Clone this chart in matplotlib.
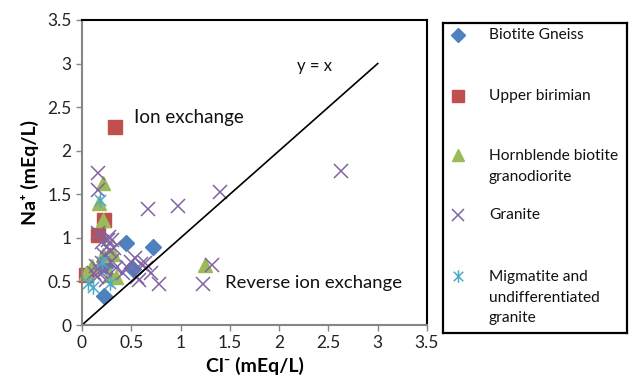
import matplotlib
matplotlib.use("Agg")
import matplotlib.pyplot as plt
from matplotlib.path import Path

plt.rcParams['font.family'] = ['Lato', 'DejaVu Sans']

# Data (Cl-, Na+) in mEq/L
gneiss_x = [0.45, 0.72, 0.52, 0.22, 0.24]
gneiss_y = [0.94, 0.89, 0.64, 0.33, 0.68]

birimian_x = [0.33, 0.22, 0.16, 0.04]
birimian_y = [2.27, 1.20, 1.03, 0.57]

hornblende_x = [0.21, 0.17, 0.21, 0.21, 0.35, 0.04, 0.31, 1.25, 0.10, 0.28]
hornblende_y = [1.63, 1.40, 1.20, 0.80, 0.55, 0.60, 0.82, 0.69, 0.68, 0.57]

granite_x = [2.63, 1.40, 0.97, 0.67, 1.32, 1.23, 0.78, 0.64, 0.58, 0.16,
             0.16, 0.16, 0.27, 0.30, 0.54, 0.46, 0.56, 0.20, 0.23, 0.15,
             0.25, 0.28, 0.32, 0.20, 0.22, 0.18, 0.30, 0.12, 0.24, 0.35,
             0.60, 0.50, 0.42, 0.65, 0.70, 0.26, 0.14]
granite_y = [1.77, 1.53, 1.37, 1.33, 0.69, 0.47, 0.47, 0.71, 0.52, 1.74,
             1.55, 1.06, 1.01, 0.97, 0.77, 0.67, 0.55, 0.71, 0.63, 0.55,
             0.90, 0.85, 0.88, 0.95, 0.80, 0.62, 0.73, 0.60, 0.52, 0.65,
             0.70, 0.72, 0.60, 0.65, 0.60, 0.98, 0.68]

migmatite_x = [0.18, 0.11, 0.28, 0.06, 0.20]
migmatite_y = [1.43, 0.44, 0.48, 0.48, 0.72]

line_x = [0, 3]
line_y = [0, 3]

labels = ["Biotite Gneiss", "Upper birimian", "Hornblende biotite\ngranodiorite",
          "Granite", "Migmatite and\nundifferentiated\ngranite"]

# asterisk marker: X plus vertical stroke
star = Path([(-1, -1), (1, 1), (-1, 1), (1, -1), (0, -1.3), (0, 1.3)],
            [Path.MOVETO, Path.LINETO, Path.MOVETO, Path.LINETO, Path.MOVETO, Path.LINETO])

styles = [
    dict(marker='D', color='#4F81BD', markersize=8, mec='#4F81BD'),
    dict(marker='s', color='#C0504D', markersize=9.5, mec='#C0504D'),
    dict(marker='^', color='#9BBB59', markersize=10.5, mec='#9BBB59'),
    dict(marker='x', color='#8064A2', markersize=9.5, mew=1.1),
    dict(marker=star, color='#4BACC6', markersize=10.5, mew=1.1),
]

fig = plt.figure(figsize=(6.33, 3.89), dpi=100)
ax = fig.add_axes([82 / 633, 64 / 389, 345 / 633, 305 / 389])

series = [(gneiss_x, gneiss_y), (birimian_x, birimian_y), (hornblende_x, hornblende_y),
          (granite_x, granite_y), (migmatite_x, migmatite_y)]
for (xs, ys), st in zip(series, styles):
    ax.plot(xs, ys, linestyle='none', clip_on=False, **st)

ax.plot(line_x, line_y, color='black', lw=1.2)

ax.set_xlim(0, 3.5)
ax.set_ylim(0, 3.5)
ticks = [0, 0.5, 1, 1.5, 2, 2.5, 3, 3.5]
ax.set_xticks(ticks)
ax.set_yticks(ticks)
ax.set_xticklabels(["0", "0.5", "1", "1.5", "2", "2.5", "3", "3.5"])
ax.set_yticklabels(["0", "0.5", "1", "1.5", "2", "2.5", "3", "3.5"])
ax.tick_params(direction='out', length=4, width=1, color='#868686', labelsize=12.5,
               labelcolor='#222222')

for s in ['left', 'bottom']:
    ax.spines[s].set_color('#868686')
    ax.spines[s].set_linewidth(1.5)
for s in ['top', 'right']:
    ax.spines[s].set_color('black')
    ax.spines[s].set_linewidth(1.5)

ax.set_xlabel("Cl\u207b (mEq/L)", fontsize=14, fontweight='bold', labelpad=4)
ax.set_ylabel("Na\u207a (mEq/L)", fontsize=14, fontweight='bold', labelpad=6)

ax.text(0.53, 2.38, "Ion exchange", fontsize=13.5, va='center', color='#111111')
ax.text(1.45, 0.48, "Reverse ion exchange", fontsize=13.3, va='center', color='#111111')
ax.text(2.18, 2.97, "y = x", fontsize=12, va='center', color='#111111')

# legend box
lax = fig.add_axes([443 / 633, 56 / 389, 184 / 633, 310 / 389])
lax.set_xlim(443, 627)
lax.set_ylim(333, 23)
lax.set_xticks([])
lax.set_yticks([])
for s in lax.spines.values():
    s.set_linewidth(1.6)
    s.set_color('black')
entry_y = [35, 96, 155, 215, 276]
for yy, st, lab in zip(entry_y, styles, labels):
    lst = dict(st)
    lst['markersize'] = st['markersize'] * 0.85
    lax.plot([458], [yy], linestyle='none', **lst)
    lax.text(489, yy, lab, fontsize=11.2, va='center' if '\n' not in lab else 'top',
             linespacing=1.6, color='#111111')
# adjust multi-line texts so first line centers on marker
for t in lax.texts:
    if '\n' in t.get_text():
        x0, y0 = t.get_position()
        t.set_position((x0, y0 - 6))

fig.savefig("out.png", dpi=100)
